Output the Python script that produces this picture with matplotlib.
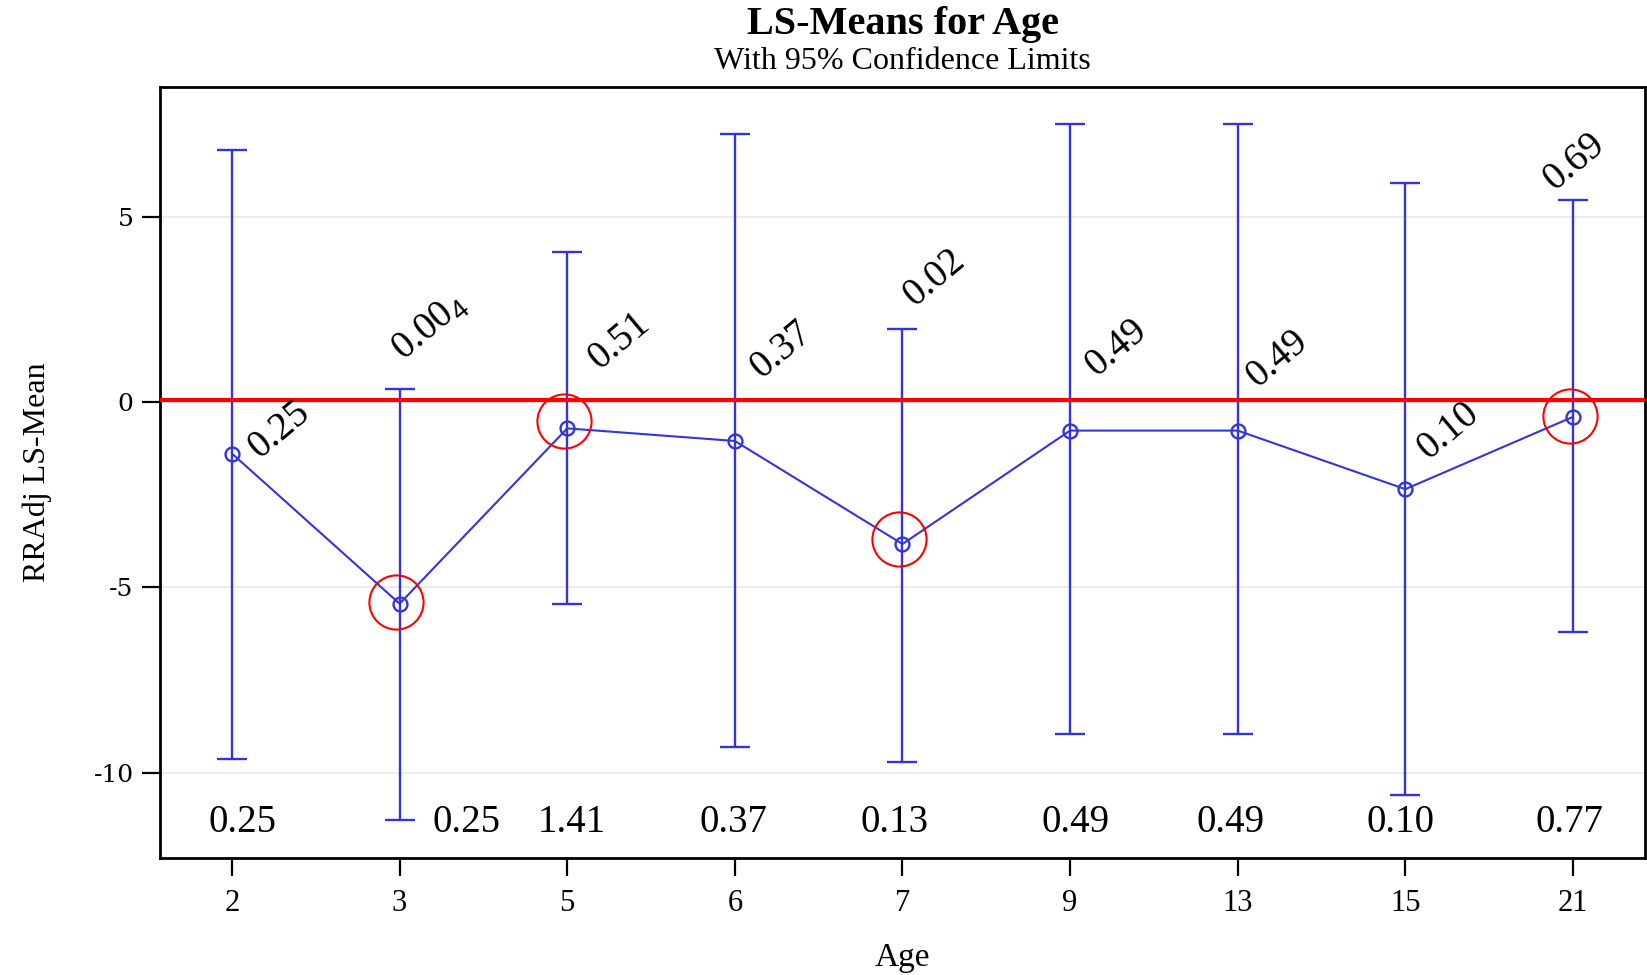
import numpy as np
import matplotlib
matplotlib.use('Agg')
import matplotlib.pyplot as plt

plt.rcParams['font.family'] = ['Liberation Serif', 'DejaVu Serif']
plt.rcParams['mathtext.fontset'] = 'custom'
plt.rcParams['mathtext.rm'] = 'Liberation Sans'
plt.rcParams['axes.unicode_minus'] = False

# data
ages = ['2', '3', '5', '6', '7', '9', '13', '15', '21']
means = [-1.39, -5.44, -0.71, -1.05, -3.83, -0.77, -0.77, -2.35, -0.40]
lower = [-9.64, -11.28, -5.44, -9.30, -9.70, -8.96, -8.96, -10.60, -6.21]
upper = [6.80, 0.34, 4.05, 7.23, 1.98, 7.51, 7.51, 5.90, 5.44]
top_labels = ['0.25', '0.00$_4$', '0.51', '0.37', '0.02', '0.49', '0.49', '0.10', '0.69']
bottom_labels = ['0.25', '0.25', '1.41', '0.37', '0.13', '0.49', '0.49', '0.10', '0.77']
yticks = [5, 0, -5, -10]
highlight = [1, 2, 4, 8]
highlight_y = [-5.39, -0.51, -3.69, -0.37]
ref_level = 0.06

# label placement (layout)
top_dx = [0.285, 0.18, 0.31, 0.275, 0.19, 0.275, 0.24, 0.26, 0.006]
top_y = [-0.75, 2.03, 1.64, 1.42, 3.35, 1.45, 1.16, -0.79, 6.49]
bot_dx = [0.06, 0.40, 0.025, -0.01, -0.05, 0.03, -0.04, -0.03, -0.02]
bot_y = -11.34

blue = '#3434dc'
x = np.arange(len(ages))

dpi = 100.0
fig = plt.figure(figsize=(1647 / dpi, 975 / dpi), dpi=dpi)
ax = fig.add_axes([0.0971, 0.12, 0.9017, 0.7908])

ax.yaxis.grid(True, color='#e8e8e8', lw=1.2)
ax.set_axisbelow(True)

m = np.array(means)
yerr = [m - np.array(lower), np.array(upper) - m]
ax.errorbar(x, means, yerr=yerr, fmt='none', ecolor=blue, elinewidth=1.7,
            capsize=11, capthick=1.7, zorder=3)
ax.plot(x, means, '-o', color=blue, lw=1.5, markersize=10,
        markerfacecolor='none', markeredgecolor=blue, markeredgewidth=1.7, zorder=4)
ax.axhline(ref_level, color='red', lw=3, zorder=5)
ax.plot(x[highlight] - 0.02, highlight_y, 'o', markersize=39,
        markerfacecolor='none', markeredgecolor='red', markeredgewidth=1.5, zorder=6)

for i in range(len(ages)):
    ax.text(x[i] + top_dx[i], top_y[i], top_labels[i], rotation=40,
            ha='center', va='center', fontsize=28, zorder=7)
    ax.text(x[i] + bot_dx[i], bot_y, bottom_labels[i],
            ha='center', va='center', fontsize=28, zorder=7)

ax.set_xlim(-0.43, 8.43)
ax.set_ylim(-12.3, 8.5)
ax.set_xticks(x)
ax.set_xticklabels(ages, fontsize=22)
ax.set_yticks(yticks)
ax.set_yticklabels([str(v) for v in yticks], family='DejaVu Serif', fontsize=18)
ax.tick_params(axis='both', direction='out', length=13, width=1.6, pad=9)
ax.tick_params(axis='y', pad=6)
for s in ax.spines.values():
    s.set_linewidth(2)

ax.set_xlabel('Age', fontsize=24, labelpad=18)
ax.set_ylabel('RRAdj LS-Mean', fontsize=23, labelpad=30)

fig.text(0.548, 0.975, 'LS-Means for Age', ha='center', va='center',
         fontsize=29, fontweight='bold')
fig.text(0.548, 0.937, 'With 95% Confidence Limits', ha='center', va='center',
         fontsize=23)

fig.savefig('out.png', dpi=dpi)
